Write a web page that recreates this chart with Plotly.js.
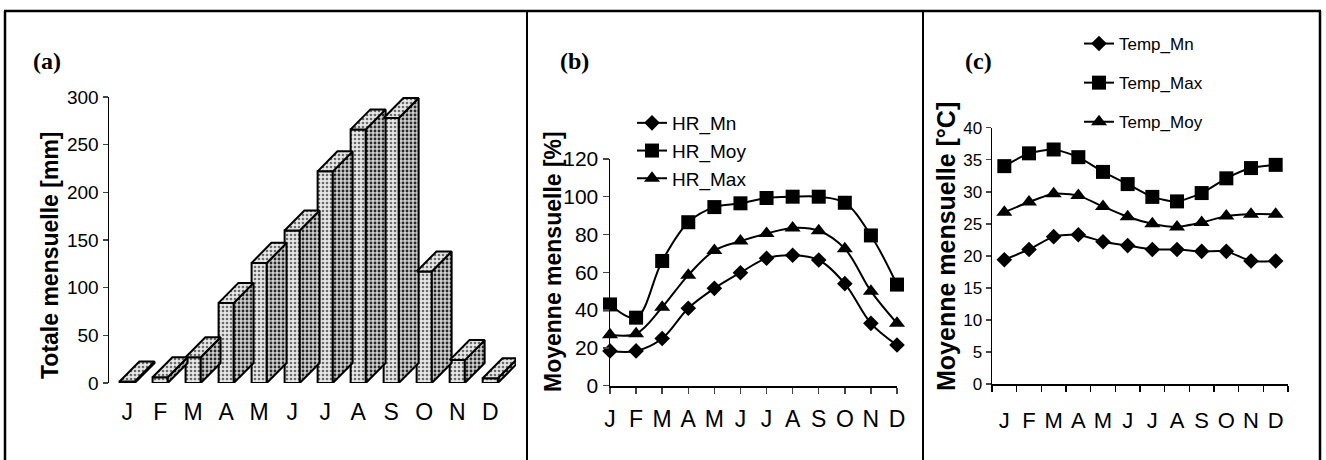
<!DOCTYPE html>
<html>
<head>
<meta charset="utf-8">
<script src="https://cdn.plot.ly/plotly-3.0.1.min.js"></script>
<style>html,body{margin:0;padding:0;background:#fff;}#chart{width:1326px;height:460px;}</style>
</head>
<body>
<div id="chart"></div>
<script>
// ---- data ----
const months = ['J','F','M','A','M','J','J','A','S','O','N','D'];
const rainTotal = [1.5, 6, 27, 84, 126, 160, 222, 266, 278, 117, 24, 5];
const hrMn  = [18.4, 18.4, 25, 41, 51.5, 59.8, 67.4, 69, 66.5, 54, 33, 21.5];
const hrMoy = [43, 36, 66, 86.5, 94.5, 96.5, 99.3, 100, 100, 96.8, 79.5, 53.5];
const hrMax = [27, 27.5, 41.5, 58.5, 71.5, 76.5, 80.5, 83.5, 82, 72.5, 50, 33];
const tempMn  = [19.4, 21.0, 23.0, 23.3, 22.2, 21.6, 21.0, 21.0, 20.7, 20.7, 19.2, 19.2];
const tempMax = [34.0, 36.0, 36.6, 35.4, 33.1, 31.2, 29.2, 28.5, 29.8, 32.1, 33.7, 34.2];
const tempMoy = [26.8, 28.4, 29.7, 29.4, 27.7, 26.1, 25.0, 24.5, 25.2, 26.2, 26.5, 26.5];

const idx = months.map((m, i) => i);
const W = 1326, H = 460;
const px = v => v / W, py = v => 1 - v / H;

// ---- 3D column geometry (in data units) ----
const barW = 0.46, depthX = 0.6, depthY = 21;
const topX = [], topY = [], sideX = [], sideY = [];
rainTotal.forEach((v, i) => {
  const l = i - barW / 2, r = i + barW / 2;
  topX.push(l, r, r + depthX, l + depthX, l, null);
  topY.push(v, v, v + depthY, v + depthY, v, null);
  sideX.push(r, r, r + depthX, r + depthX, r, null);
  sideY.push(0, v, v + depthY, depthY, 0, null);
});

const pat = {shape: '.', bgcolor: '#e8e8e8', fgcolor: '#6a6a6a', size: 4, solidity: 0.35};
const patSide = {shape: '.', bgcolor: '#d0d0d0', fgcolor: '#2a2a2a', size: 4, solidity: 0.4};

const traces = [
  {type: 'scatter', x: sideX, y: sideY, xaxis: 'x', yaxis: 'y', mode: 'lines', fill: 'toself',
   fillcolor: '#d0d0d0', fillpattern: patSide, line: {color: '#000', width: 2}, showlegend: false, hoverinfo: 'skip'},
  {type: 'scatter', x: topX, y: topY, xaxis: 'x', yaxis: 'y', mode: 'lines', fill: 'toself',
   fillcolor: '#e0e0e0', fillpattern: pat, line: {color: '#000', width: 2}, showlegend: false, hoverinfo: 'skip'},
  {type: 'bar', x: idx, y: rainTotal, width: barW, xaxis: 'x', yaxis: 'y',
   marker: {color: '#e8e8e8', pattern: pat, line: {color: '#000', width: 2}}, showlegend: false},
];

const lineStyle = {color: '#000', width: 2};
function series(y, name, symbol, size, ax, legend, smooth) {
  return {type: 'scatter', mode: 'lines+markers', x: idx, y: y, name: name,
    xaxis: 'x' + ax, yaxis: 'y' + ax, legend: legend, legendgroup: name, cliponaxis: false,
    line: Object.assign({shape: 'spline', smoothing: smooth}, lineStyle),
    marker: {symbol: symbol, size: size, color: '#000'}};
}
traces.push(series(hrMn, 'HR_Mn', 'diamond', 12, 2, 'legend', 1));
traces.push(series(hrMoy, 'HR_Moy', 'square', 14, 2, 'legend', 1));
traces.push(series(hrMax, 'HR_Max', 'triangle-up', 14, 2, 'legend', 1));
traces.push(series(tempMn, 'Temp_Mn', 'diamond', 12, 3, 'legend2', 0.6));
traces.push(series(tempMax, 'Temp_Max', 'square', 14, 3, 'legend2', 0.6));
traces.push(series(tempMoy, 'Temp_Moy', 'triangle-up', 14, 3, 'legend2', 0.6));

const AR = 'Arial, Liberation Sans, sans-serif';
const tickFont = s => ({family: AR, size: s, color: '#000'});
const boldFont = s => ({family: AR, size: s, color: '#000', weight: 'bold'});
const serifBold = {family: 'Liberation Serif, Times New Roman, serif', size: 24, color: '#000', weight: 'bold'};

function note(text, x, y, font, angle) {
  return {text: text, x: px(x), y: py(y), xref: 'paper', yref: 'paper', showarrow: false,
    xanchor: 'center', yanchor: 'middle', font: font, textangle: angle || 0};
}

const layout = {
  width: W, height: H,
  margin: {l: 0, r: 0, t: 0, b: 0},
  paper_bgcolor: '#fff', plot_bgcolor: 'rgba(0,0,0,0)',
  font: {family: AR, color: '#000'},
  bargap: 0,
  xaxis: {domain: [px(109), px(516)], range: [-0.55, 11.78], tickvals: idx, ticktext: months,
    showline: false, showgrid: false, zeroline: false, ticks: '', tickfont: tickFont(23), ticklabelstandoff: 13},
  yaxis: {domain: [py(383), py(97)], range: [0, 300], dtick: 50, showline: true, linewidth: 1.5, linecolor: '#000',
    ticks: 'outside', ticklen: 5, tickwidth: 1.5, showgrid: false, zeroline: false, tickfont: tickFont(19)},
  xaxis2: {anchor: 'y2', domain: [px(610), px(897)], range: [0, 11], tickvals: idx, ticktext: months,
    showline: true, linewidth: 2, linecolor: '#000', ticks: 'outside', ticklen: 6, tickwidth: 1.5,
    showgrid: false, zeroline: false, tickfont: tickFont(23), ticklabelstandoff: 6},
  yaxis2: {anchor: 'x2', domain: [py(385.7), py(158.9)], range: [0, 120], dtick: 20, showline: true, linewidth: 1.5,
    linecolor: '#000', ticks: 'outside', ticklen: 6, tickwidth: 1.5, showgrid: false, zeroline: false,
    tickfont: tickFont(21)},
  xaxis3: {anchor: 'y3', domain: [px(992), px(1288)], range: [-0.5, 11.5], tickvals: idx, ticktext: months,
    showline: true, linewidth: 2, linecolor: '#000', ticks: '', showgrid: false, zeroline: false,
    tickfont: tickFont(22), ticklabelstandoff: 16,
    minor: {tickvals: [-0.5, 0.5, 1.5, 2.5, 3.5, 4.5, 5.5, 6.5, 7.5, 8.5, 9.5, 10.5, 11.5], ticks: 'outside', ticklen: 6,
      tickwidth: 1.5, tickcolor: '#000', showgrid: false}},
  yaxis3: {anchor: 'x3', domain: [py(384), py(127.7)], range: [0, 40], dtick: 5, showline: true, linewidth: 1.5,
    linecolor: '#000', ticks: 'outside', ticklen: 5, tickwidth: 1.5, showgrid: false, zeroline: false,
    tickfont: tickFont(17)},
  legend: {x: px(632), y: py(104), xanchor: 'left', yanchor: 'top', bgcolor: 'rgba(0,0,0,0)',
    tracegroupgap: 0, font: tickFont(19)},
  legend2: {x: px(1079), y: py(26), xanchor: 'left', yanchor: 'top', bgcolor: 'rgba(0,0,0,0)',
    tracegroupgap: 14, font: tickFont(17)},
  annotations: [
    note('(a)', 47, 61, serifBold), note('(b)', 574, 61, serifBold), note('(c)', 978, 61, serifBold),
    note('Totale mensuelle [mm]', 50, 255, boldFont(23), -90),
    note('Moyenne mensuelle [%]', 553, 262, boldFont(23), -90),
    note('Moyenne mensuelle [°C]', 946, 247, boldFont(25), -90)
  ],
  shapes: [
    {type: 'line', xref: 'paper', yref: 'paper', x0: px(4), x1: px(1321), y0: py(11), y1: py(11), line: {color: '#000', width: 2.5}},
    {type: 'line', xref: 'paper', yref: 'paper', x0: px(5), x1: px(5), y0: py(11), y1: 0, line: {color: '#000', width: 2.5}},
    {type: 'line', xref: 'paper', yref: 'paper', x0: px(527), x1: px(527), y0: py(11), y1: 0, line: {color: '#000', width: 2}},
    {type: 'line', xref: 'paper', yref: 'paper', x0: px(923), x1: px(923), y0: py(11), y1: 0, line: {color: '#000', width: 2}},
    {type: 'line', xref: 'paper', yref: 'paper', x0: px(1320), x1: px(1320), y0: py(11), y1: 0, line: {color: '#000', width: 2.5}}
  ]
};

Plotly.newPlot('chart', traces, layout, {displayModeBar: false, staticPlot: true});
</script>
</body>
</html>
